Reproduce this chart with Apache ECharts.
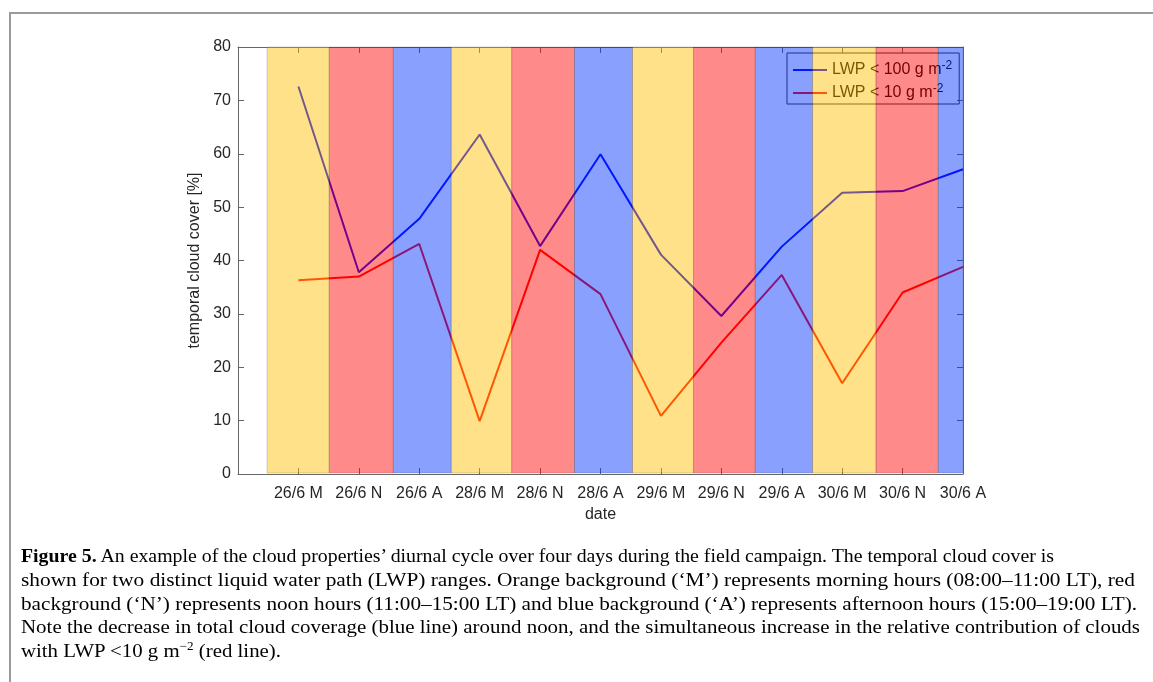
<!DOCTYPE html>
<html>
<head>
<meta charset="utf-8">
<script src="https://cdn.jsdelivr.net/npm/echarts@6/dist/echarts.min.js"></script>
<style>
  html, body { margin: 0; padding: 0; background: #fff; }
  #wrap { position: relative; width: 1153px; height: 682px; overflow: hidden; }
  #chart { position: absolute; left: 0; top: 0; width: 1153px; height: 682px; }
  #frame { position: absolute; left: 9px; top: 12px; width: 1160px; height: 700px;
           border-top: 2px solid #9a9a9a; border-left: 2px solid #9a9a9a; pointer-events: none; }
  #cap { position: absolute; left: 21px; top: 544px; font-family: 'Liberation Serif', 'DejaVu Serif', serif;
         font-size: 19px; line-height: 23.75px; color: #000; }
  #cap .ln { white-space: nowrap; display: block; transform-origin: 0 50%; }
  #cap .ln span.in { display: inline-block; }
  #cap sup { font-size: 12px; line-height: 0; vertical-align: 7px; }
</style>
</head>
<body>
<div id="wrap">
  <div id="chart"></div>
  <div id="frame"></div>
  <div id="cap">
    <div class="ln" data-w="1033"><span class="in"><b>Figure 5.</b> An example of the cloud properties’ diurnal cycle over four days during the field campaign. The temporal cloud cover is</span></div>
    <div class="ln" data-w="1114"><span class="in">shown for two distinct liquid water path (LWP) ranges. Orange background (‘M’) represents morning hours (08:00–11:00 LT), red</span></div>
    <div class="ln" data-w="1116"><span class="in">background (‘N’) represents noon hours (11:00–15:00 LT) and blue background (‘A’) represents afternoon hours (15:00–19:00 LT).</span></div>
    <div class="ln" data-w="1119"><span class="in">Note the decrease in total cloud coverage (blue line) around noon, and the simultaneous increase in the relative contribution of clouds</span></div>
    <div class="ln" data-w="0"><span class="in">with LWP &lt;10 g m<sup>−2</sup> (red line).</span></div>
  </div>
</div>
<script>
// ---- data ----
const categories = ['26/6 M', '26/6 N', '26/6 A', '28/6 M', '28/6 N', '28/6 A',
                    '29/6 M', '29/6 N', '29/6 A', '30/6 M', '30/6 N', '30/6 A'];
const lwp100 = [72.6, 37.8, 47.8, 63.6, 42.7, 59.9, 41.1, 29.6, 42.6, 52.7, 53.0, 57.1];
const lwp10  = [36.3, 37.0, 43.1, 9.9, 42.0, 33.7, 10.9, 24.6, 37.3, 17.0, 34.0, 38.8];
const bandEdges = [0.48, 1.51, 2.57, 3.53, 4.53, 5.57, 6.53, 7.54, 8.56, 9.51, 10.56, 11.59, 12];
const bandKinds = ['M', 'N', 'A', 'M', 'N', 'A', 'M', 'N', 'A', 'M', 'N', 'A'];
const seriesNames = ['LWP < 100 g m⁻²', 'LWP < 10 g m⁻²'];
const yMin = 0, yMax = 80, yStep = 10;
const xMin = 0, xMax = 12;

// ---- styles ----
const bandColors = { M: 'rgba(255,190,0,0.46)', N: 'rgba(255,0,0,0.46)', A: 'rgba(0,48,255,0.46)' };
const FONT = 'Liberation Sans, Arial, sans-serif';
const TXT = '#262626';
const AX = '#666';

const bands = bandKinds.map((k, i) => [bandEdges[i], bandEdges[i + 1], i]);

const chart = echarts.init(document.getElementById('chart'), null, { renderer: 'canvas' });
chart.setOption({
  animation: false,
  backgroundColor: 'transparent',
  grid: { left: 238, right: 190, top: 47, bottom: 208 },
  legend: {
    data: seriesNames.map(n => ({ name: n, icon: 'rect' })),
    orient: 'vertical',
    left: 787, top: 53,
    itemWidth: 34, itemHeight: 2, itemGap: 5,
    padding: [7, 7, 3, 6],
    borderColor: '#333', borderWidth: 1,
    backgroundColor: 'transparent',
    formatter: name => name.replace('⁻²', '{sup|-2}'),
    textStyle: {
      fontFamily: FONT, fontSize: 16, color: '#000',
      rich: { sup: { fontFamily: FONT, fontSize: 12, color: '#000', verticalAlign: 'top', padding: [0, 0, 8, 0] } }
    }
  },
  xAxis: [{
    type: 'value', min: xMin, max: xMax, interval: 1, position: 'bottom',
    name: 'date', nameLocation: 'middle', nameGap: 31,
    nameTextStyle: { fontFamily: FONT, fontSize: 16, color: TXT },
    axisLine: { show: true, lineStyle: { color: AX, width: 1 } },
    axisTick: { show: true, inside: true, length: 6, lineStyle: { color: AX } },
    axisLabel: { show: true, margin: 12, fontFamily: FONT, fontSize: 16, color: TXT,
                 formatter: v => categories[v - 1] || '' },
    splitLine: { show: false }
  }, {
    type: 'value', min: xMin, max: xMax, interval: 1, position: 'top',
    axisLine: { show: true, onZero: false, lineStyle: { color: AX, width: 1 } },
    axisTick: { show: true, inside: true, length: 6, lineStyle: { color: AX } },
    axisLabel: { show: false }, splitLine: { show: false }
  }],
  yAxis: [{
    type: 'value', min: yMin, max: yMax, interval: yStep, position: 'left',
    name: 'temporal cloud cover [%]', nameLocation: 'middle', nameGap: 35,
    nameTextStyle: { fontFamily: FONT, fontSize: 16, color: TXT },
    axisLine: { show: true, lineStyle: { color: AX, width: 1 } },
    axisTick: { show: true, inside: true, length: 6, lineStyle: { color: AX } },
    axisLabel: { margin: 7, fontFamily: FONT, fontSize: 16, color: TXT },
    splitLine: { show: false }
  }, {
    type: 'value', min: yMin, max: yMax, interval: yStep, position: 'right',
    axisLine: { show: true, onZero: false, lineStyle: { color: AX, width: 1 } },
    axisTick: { show: true, inside: true, length: 6, lineStyle: { color: AX } },
    axisLabel: { show: false }, splitLine: { show: false }
  }],
  series: [
    {
      name: seriesNames[0], type: 'line', symbol: 'none', showSymbol: false, z: 2,
      data: lwp100.map((v, i) => [i + 1, v]),
      lineStyle: { color: '#0000ff', width: 2 }, itemStyle: { color: '#0000ff' }
    },
    {
      name: seriesNames[1], type: 'line', symbol: 'none', showSymbol: false, z: 2,
      data: lwp10.map((v, i) => [i + 1, v]),
      lineStyle: { color: '#ff0000', width: 2 }, itemStyle: { color: '#ff0000' }
    },
    {
      name: 'bands', type: 'custom', z: 10, silent: true,
      xAxisIndex: 0, yAxisIndex: 0,
      encode: { x: [0, 1] },
      data: bands,
      renderItem: (params, api) => {
        const p0 = api.coord([api.value(0), yMax]);
        const p1 = api.coord([api.value(1), yMin]);
        return {
          type: 'rect',
          shape: { x: p0[0], y: p0[1], width: p1[0] - p0[0], height: p1[1] - p0[1] - 1 },
          style: { fill: bandColors[bandKinds[api.value(2)]], stroke: 'rgba(40,40,40,0.18)', lineWidth: 1 }
        };
      }
    }
  ]
});

// fit caption lines to the measured widths
(function () {
  const lines = document.querySelectorAll('#cap .ln');
  const scales = [];
  lines.forEach(l => {
    const w = +l.dataset.w;
    if (w > 0) {
      const inner = l.querySelector('.in');
      const s = w / inner.getBoundingClientRect().width;
      scales.push(s);
      l.style.transform = 'scaleX(' + s + ')';
    }
  });
  const avg = scales.reduce((a, b) => a + b, 0) / scales.length;
  lines.forEach(l => { if (+l.dataset.w === 0) l.style.transform = 'scaleX(' + avg + ')'; });
})();
</script>
</body>
</html>
